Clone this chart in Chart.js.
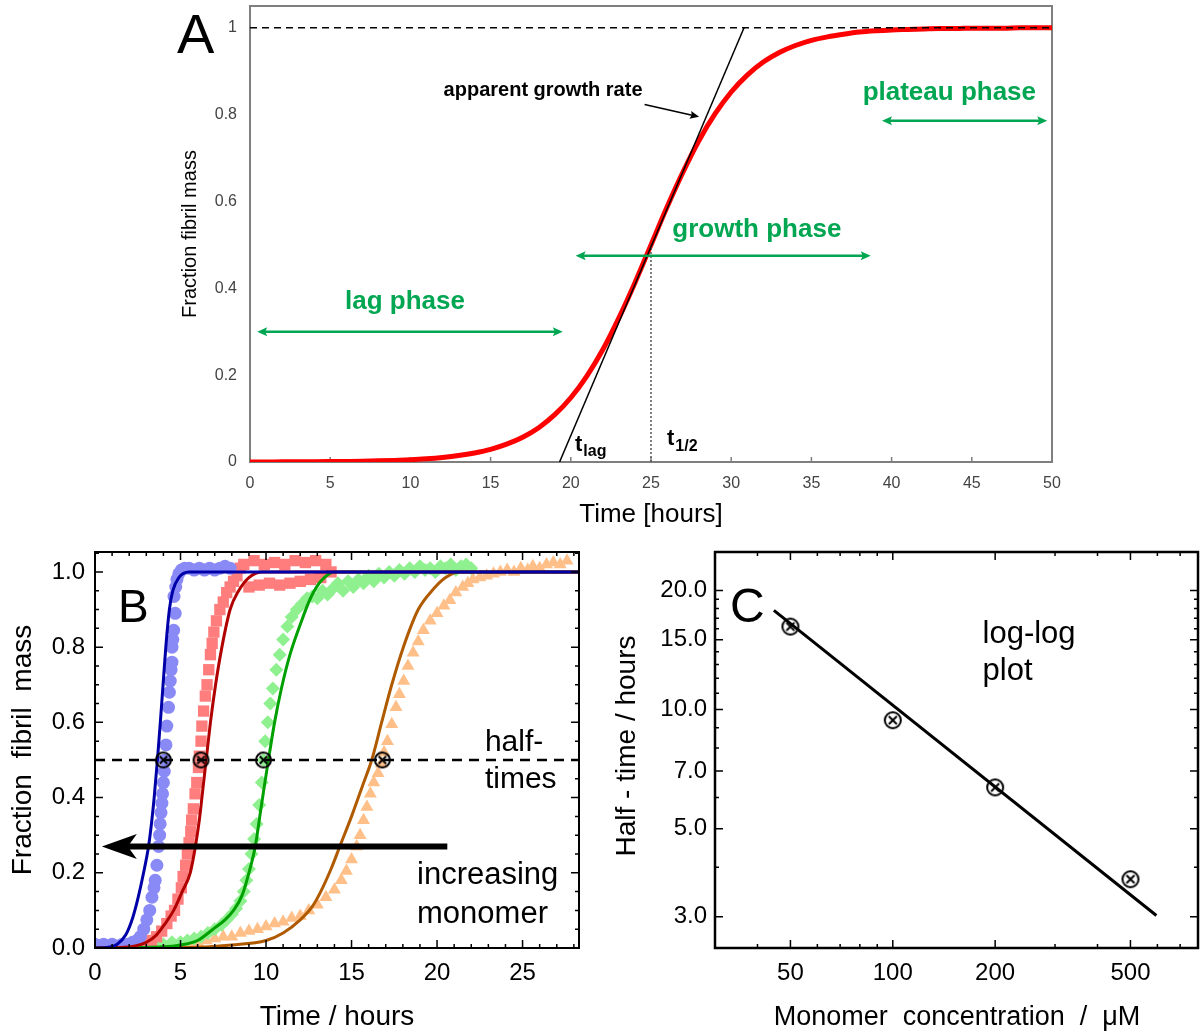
<!DOCTYPE html>
<html>
<head>
<meta charset="utf-8">
<title>Amyloid fibril growth kinetics</title>
<script src="https://cdn.jsdelivr.net/npm/chart.js@4.4.1/dist/chart.umd.min.js"></script>
<style>
  body { margin: 0; background: #fff; }
  #wrap { position: relative; width: 1204px; height: 1034px; overflow: hidden; }
  canvas { position: absolute; }
  #panelA { left: 0; top: 0; }
  #panelB { left: 0; top: 540px; }
  #panelC { left: 600px; top: 540px; }
</style>
</head>
<body>
<div id="wrap">
  <canvas id="panelA" width="1204" height="540"></canvas>
  <canvas id="panelB" width="600" height="494"></canvas>
  <canvas id="panelC" width="604" height="494"></canvas>
</div>
<script>
// ---------- panel A : idealised sigmoid ----------
const timeA = [0,1,2,3,4,5,6,7,8,9,10,11,12,13,14,15,16,17,18,19,20,21,22,23,24,25,
  26,27,28,29,30,31,32,33,34,35,36,37,38,39,40,41,42,43,44,45,46,47,48,49,50];
const fracA = [0,0.0002,0.0003,0.0005,0.0006,0.0009,0.0013,0.0018,0.0026,0.0037,0.0052,
  0.0074,0.0105,0.0148,0.0208,0.029,0.041,0.057,0.079,0.109,0.148,0.198,0.259,0.332,0.413,0.5,
  0.587,0.668,0.741,0.802,0.852,0.891,0.921,0.943,0.959,0.971,0.979,0.985,0.99,0.993,0.995,
  0.996,0.997,0.998,0.998,0.999,0.999,0.999,1,1,1];
const tangentT = [19.3, 30.8];
const tangentY = [0, 1];
const tHalfA = 25;
const plateauA = 1;
const xTicksA = [0,5,10,15,20,25,30,35,40,45,50];
const yTicksA = [0,0.2,0.4,0.6,0.8,1];

// ---------- panel B : measured curves and fits ----------
const blueT = [0,0.25,0.5,0.75,1.0,1.3,1.6,1.9,2.2,2.45,2.65,2.85,3.03,3.2,3.33,3.45,3.52,3.62,3.72,3.78,
  3.81,3.86,3.91,3.95,4.0,4.05,4.1,4.15,4.2,4.3,4.35,4.4,4.45,4.5,4.5,4.55,4.6,4.69,4.62,4.72,
  4.79,4.9,5.05,5.25,5.5,5.8,6.1,6.4,6.7,7.0,7.3,7.6,7.9];
const blueY = [0.01,0.005,0.01,0.005,0.01,0.005,0.01,0.01,0.015,0.02,0.03,0.05,0.075,0.1,0.135,0.16,0.18,0.22,0.27,0.3,
  0.33,0.36,0.385,0.41,0.44,0.47,0.5,0.54,0.59,0.64,0.68,0.71,0.74,0.76,0.8,0.82,0.845,0.89,0.935,0.96,
  0.98,0.995,1.005,1.01,1.01,1.005,1.01,1.005,1.01,1.005,1.01,1.015,1.01];

const redT = [0.2,0.6,1.0,1.4,1.8,2.2,2.6,3.0,3.3,3.6,3.9,4.2,4.45,4.65,4.85,5.05,5.15,5.3,5.4,5.5,
  5.6,5.65,5.75,5.85,5.95,6.05,6.1,6.2,6.25,6.35,6.45,6.55,6.65,6.75,6.85,6.95,7.1,7.3,7.5,7.7,
  7.9,8.1,8.3,8.5,8.7,9.0,9.3,9.6,9.9,10.2,10.5,10.8,11.1,11.4,11.7,12.0,12.3,12.6,12.9,13.2,13.5,13.8];
const redY = [0.005,0.005,0,0.005,0.005,0.01,0.01,0.015,0.02,0.03,0.045,0.065,0.085,0.1,0.13,0.16,0.19,0.22,0.25,0.28,
  0.31,0.34,0.37,0.41,0.44,0.48,0.51,0.55,0.59,0.63,0.67,0.7,0.74,0.78,0.81,0.84,0.87,0.9,0.92,0.945,
  0.96,0.975,0.99,1.01,1.02,0.96,1.03,0.965,1.02,0.97,1.025,0.965,1.02,0.97,1.03,0.975,1.025,0.98,1.03,0.985,1.02,1.0];

const greenT = [1.0,1.5,2.0,2.5,3.0,3.5,4.0,4.5,5.0,5.4,5.8,6.2,6.6,7.0,7.4,7.7,8.0,8.25,8.5,8.7,
  8.85,9.0,9.15,9.3,9.45,9.6,9.75,9.85,9.95,10.1,10.25,10.4,10.6,10.8,11.0,11.25,11.5,11.8,12.1,12.4,
  12.7,13.0,13.3,13.6,13.9,14.2,14.5,14.8,15.1,15.4,15.7,16.0,16.3,16.6,16.9,17.2,17.5,17.8,18.1,18.4,
  18.7,19.0,19.3,19.6,19.9,20.2,20.5,20.8,21.1,21.4,21.7,22.0];
const greenY = [0.005,0.005,0.005,0.005,0.01,0.01,0.01,0.015,0.015,0.02,0.025,0.03,0.04,0.05,0.062,0.075,0.09,0.105,0.125,0.15,
  0.18,0.21,0.25,0.29,0.33,0.38,0.44,0.5,0.55,0.6,0.65,0.69,0.74,0.78,0.82,0.855,0.88,0.9,0.915,0.93,
  0.935,0.93,0.95,0.94,0.955,0.97,0.95,0.975,0.96,0.98,0.97,0.99,0.975,0.995,0.985,1.0,0.99,1.005,0.995,1.01,
  1.0,1.015,1.005,1.01,1.0,1.015,1.01,1.02,1.005,1.015,1.02,1.01];

const orangeT = [0.3,1,2,3,4,5,5.5,6,6.5,7,7.5,8,8.5,9,9.5,10,10.5,11,11.5,12,
  12.5,13,13.5,14,14.4,14.7,15,15.3,15.5,15.7,15.9,16.1,16.3,16.55,16.75,16.9,17.1,17.35,17.6,17.8,
  18.05,18.3,18.6,18.9,19.2,19.6,20,20.4,20.75,21.1,21.5,21.8,22.1,22.5,22.9,23.3,23.7,24.1,24.5,24.9,
  25.3,25.6,26,26.4,26.8,27.2,27.6];
const orangeY = [0,0,0,0.005,0.005,0.005,0.01,0.015,0.02,0.025,0.03,0.03,0.04,0.045,0.05,0.057,0.065,0.07,0.08,0.085,
  0.1,0.115,0.135,0.155,0.18,0.205,0.235,0.27,0.3,0.34,0.375,0.41,0.44,0.465,0.49,0.52,0.55,0.595,0.64,0.675,
  0.71,0.75,0.785,0.815,0.845,0.87,0.89,0.91,0.925,0.945,0.96,0.97,0.98,0.985,0.99,0.995,1,1.005,1,1.01,
  1.005,1.015,1.01,1.02,1.025,1.02,1.03];

const fitBlueT = [0,0.8,1.3,1.8,2.2,2.5,2.84,3.13,3.3,3.46,3.65,3.82,3.98,4.14,4.35,4.55,4.9,5.5,28.3];
const fitBlueY = [0,0.002,0.01,0.035,0.08,0.13,0.2,0.27,0.33,0.4,0.5,0.6,0.7,0.8,0.9,0.95,0.985,1,1];
const fitRedT = [0,2.0,3.0,3.6,4.1,4.6,5.1,5.57,5.87,6.1,6.3,6.5,6.75,7.05,7.42,7.9,8.4,9.0,9.8,28.3];
const fitRedY = [0,0.003,0.015,0.035,0.065,0.1,0.15,0.2,0.27,0.34,0.42,0.5,0.6,0.7,0.8,0.9,0.95,0.985,1,1];
const fitGreenT = [0,4,5,6,6.9,7.6,8.1,8.6,9.0,9.37,9.7,9.95,10.14,10.5,10.9,11.4,12.0,12.6,13.2,14.0,28.3];
const fitGreenY = [0,0.003,0.008,0.02,0.05,0.075,0.1,0.14,0.2,0.27,0.37,0.445,0.5,0.6,0.69,0.78,0.86,0.93,0.975,1,1];
const fitBrownT = [0,6,8,10,11,12,12.7,13.2,13.8,14.33,15.0,15.67,16.18,16.76,17.35,18.03,18.9,19.8,20.5,21.3,28.3];
const fitBrownY = [0,0.002,0.008,0.02,0.04,0.075,0.11,0.15,0.21,0.272,0.35,0.435,0.5,0.6,0.7,0.8,0.9,0.955,0.985,1,1];

const halfTimes = [4.0, 6.2, 9.85, 16.8];
const halfLevel = 0.5;
const xTicksB = [0,5,10,15,20,25];
const yTicksB = [0,0.2,0.4,0.6,0.8,1.0];

// ---------- panel C : log-log half-times ----------
const monomer = [50, 100, 200, 500];
const halfTime = [16.2, 9.4, 6.36, 3.73];
const fitConc = [44.7, 596];
const fitHalf = [17.8, 3.02];
const xTicksC = [50, 100, 200, 500];
const yTicksC = [3, 5, 7, 10, 15, 20];

const FONT = "'Liberation Sans', Arial, Helvetica, sans-serif";
Chart.defaults.font.family = FONT;
Chart.defaults.color = '#000';

function pts(xs, ys) { return xs.map((x, i) => ({ x: x, y: ys[i] })); }

// circle with a cross, used as point style
function otimes(r, lw) {
  const c = document.createElement('canvas');
  const s = Math.ceil(2 * r + lw + 2);
  c.width = c.height = s;
  const g = c.getContext('2d');
  g.strokeStyle = '#000';
  g.lineWidth = lw;
  g.beginPath(); g.arc(s / 2, s / 2, r, 0, Math.PI * 2); g.stroke();
  const d = r * 0.5;
  g.beginPath();
  g.moveTo(s / 2 - d, s / 2 - d); g.lineTo(s / 2 + d, s / 2 + d);
  g.moveTo(s / 2 + d, s / 2 - d); g.lineTo(s / 2 - d, s / 2 + d);
  g.stroke();
  return c;
}

function frame(chart, f) {
  const ctx = chart.ctx, a = chart.chartArea, xs = chart.scales.x, ys = chart.scales.y;
  ctx.save();
  ctx.strokeStyle = f.color;
  ctx.lineWidth = f.tickWidth;
  ctx.beginPath();
  const xt = (vals, len) => vals.forEach(v => {
    const p = xs.getPixelForValue(v);
    ctx.moveTo(p, a.bottom); ctx.lineTo(p, a.bottom - len);
    if (f.mirror) { ctx.moveTo(p, a.top); ctx.lineTo(p, a.top + len); }
  });
  const yt = (vals, len) => vals.forEach(v => {
    const p = ys.getPixelForValue(v);
    ctx.moveTo(a.left, p); ctx.lineTo(a.left + len, p);
    if (f.mirror) { ctx.moveTo(a.right, p); ctx.lineTo(a.right - len, p); }
  });
  xt(f.xMajor || [], f.major); xt(f.xMinor || [], f.minor);
  yt(f.yMajor || [], f.major); yt(f.yMinor || [], f.minor);
  ctx.stroke();
  ctx.lineWidth = f.boxWidth;
  ctx.strokeRect(a.left, a.top, a.right - a.left, a.bottom - a.top);
  ctx.restore();
}

function head(ctx, x, y, ang, len, half, notch) {
  ctx.save();
  ctx.translate(x, y); ctx.rotate(ang);
  ctx.beginPath();
  ctx.moveTo(0, 0); ctx.lineTo(-len, -half); ctx.lineTo(-len + notch, 0); ctx.lineTo(-len, half);
  ctx.closePath(); ctx.fill();
  ctx.restore();
}

function text(ctx, s, x, y, font, align, color) {
  ctx.save();
  ctx.font = font; ctx.textAlign = align || 'left'; ctx.textBaseline = 'alphabetic';
  ctx.fillStyle = color || '#000';
  ctx.fillText(s, x, y);
  ctx.restore();
}

function vtext(ctx, s, x, y, font) {
  ctx.save();
  ctx.translate(x, y); ctx.rotate(-Math.PI / 2);
  ctx.font = font; ctx.textAlign = 'center'; ctx.textBaseline = 'middle'; ctx.fillStyle = '#000';
  ctx.fillText(s, 0, 0);
  ctx.restore();
}

function tickSet(vals) { return s => { s.ticks = vals.map(v => ({ value: v })); }; }

// fixed axis sizes, no label overhang padding, so the plot box lands where the figure has it
function fixX(h) { return s => { s.height = h; s.paddingLeft = 0; s.paddingRight = 0; s.paddingTop = 0; s.paddingBottom = 0; }; }
function fixY(w) { return s => { s.width = w; s.paddingLeft = 0; s.paddingRight = 0; s.paddingTop = 0; s.paddingBottom = 0; }; }

function axis(opts) {
  return Object.assign({
    grid: { display: false, drawTicks: false },
    border: { display: false }
  }, opts);
}

const base = {
  responsive: false,
  animation: false,
  events: [],
  plugins: { legend: { display: false }, tooltip: { enabled: false } }
};

// ---------------- panel A ----------------
const phaseMarks = [
  { label: 'lag phase', from: 0.45, to: 19.5, level: 0.30, tx: 9.66, ty: 0.352 },
  { label: 'growth phase', from: 20.3, to: 38.7, level: 0.475, tx: 31.6, ty: 0.518 },
  { label: 'plateau phase', from: 39.4, to: 49.7, level: 0.786, tx: 43.6, ty: 0.834 }
];
const GREEN = '#00a651';

const decorA = {
  id: 'decorA',
  beforeDatasetsDraw(chart) {
    frame(chart, { color: '#7f7f7f', tickWidth: 1.5, boxWidth: 2, major: 5, minor: 0, xMajor: xTicksA, mirror: false });
  },
  afterDatasetsDraw(chart) {
    const ctx = chart.ctx, x = chart.scales.x, y = chart.scales.y;
    // phase arrows and their labels
    phaseMarks.forEach(m => {
      const x1 = x.getPixelForValue(m.from), x2 = x.getPixelForValue(m.to), py = y.getPixelForValue(m.level);
      ctx.save();
      ctx.strokeStyle = GREEN; ctx.fillStyle = GREEN; ctx.lineWidth = 2.5;
      ctx.beginPath(); ctx.moveTo(x1 + 6, py); ctx.lineTo(x2 - 6, py); ctx.stroke();
      head(ctx, x1, py, Math.PI, 10, 4.5, 2);
      head(ctx, x2, py, 0, 10, 4.5, 2);
      ctx.restore();
      text(ctx, m.label, x.getPixelForValue(m.tx), y.getPixelForValue(m.ty), 'bold 26px ' + FONT, 'center', GREEN);
    });
    // apparent growth rate pointer
    text(ctx, 'apparent growth rate', x.getPixelForValue(18.27), y.getPixelForValue(0.842), 'bold 20px ' + FONT, 'center');
    const ax1 = x.getPixelForValue(24.6), ay1 = y.getPixelForValue(0.823);
    const ax2 = x.getPixelForValue(28.0), ay2 = y.getPixelForValue(0.795);
    const ang = Math.atan2(ay2 - ay1, ax2 - ax1);
    ctx.save();
    ctx.strokeStyle = '#000'; ctx.fillStyle = '#000'; ctx.lineWidth = 1.6;
    ctx.beginPath(); ctx.moveTo(ax1, ay1); ctx.lineTo(ax2 - 6 * Math.cos(ang), ay2 - 6 * Math.sin(ang)); ctx.stroke();
    head(ctx, ax2, ay2, ang, 9, 4, 1.5);
    ctx.restore();
    // t_lag and t_1/2
    const sub = (main, s, tx, ty, drop) => {
      const px = x.getPixelForValue(tx), py = y.getPixelForValue(ty);
      ctx.save();
      ctx.fillStyle = '#000'; ctx.textBaseline = 'alphabetic';
      ctx.font = 'bold 22px ' + FONT; ctx.fillText(main, px, py);
      const w = ctx.measureText(main).width;
      ctx.font = 'bold 16px ' + FONT; ctx.fillText(s, px + w + 1, py + drop);
      ctx.restore();
    };
    sub('t', 'lag', 20.26, 0.025, 5);
    sub('t', '1/2', 26.0, 0.039, 6);
    // panel letter and axis titles
    text(ctx, 'A', 177, 53, '56px ' + FONT, 'left');
    vtext(ctx, 'Fraction fibril mass', 190, 234, '20px ' + FONT);
    text(ctx, 'Time [hours]', 651, 522, '26px ' + FONT, 'center');
  }
};

new Chart(document.getElementById('panelA'), {
  type: 'scatter',
  data: {
    datasets: [
      { data: pts([xTicksA[0], xTicksA[xTicksA.length - 1]], [plateauA, plateauA]), showLine: true,
        borderColor: '#000', borderWidth: 1.5, borderDash: [7, 5], pointRadius: 0, order: 0 },
      { data: pts(tangentT, tangentY), showLine: true, borderColor: '#000', borderWidth: 1.5, pointRadius: 0, order: 1 },
      { data: pts([tHalfA, tHalfA], [0, 0.5]), showLine: true, borderColor: '#555', borderWidth: 1.5,
        borderDash: [2, 2], pointRadius: 0, order: 1 },
      { data: pts(timeA, fracA), showLine: true, borderColor: '#ff0000', borderWidth: 5, pointRadius: 0,
        cubicInterpolationMode: 'monotone', order: 2 }
    ]
  },
  options: Object.assign({}, base, {
    layout: { autoPadding: false, padding: { top: 6, right: 152, left: 0, bottom: 0 } },
    scales: {
      x: axis({ type: 'linear', min: 0, max: 50, afterFit: fixX(78), afterBuildTicks: tickSet(xTicksA),
        ticks: { padding: 12, color: '#444', font: { size: 16 }, maxRotation: 0, autoSkip: false, callback: v => String(v) } }),
      y: axis({ type: 'linear', min: 0, max: 1.05, afterFit: fixY(250), afterBuildTicks: tickSet(yTicksA),
        ticks: { padding: 13, color: '#444', font: { size: 16 }, autoSkip: false, callback: v => String(v) } })
    }
  }),
  plugins: [decorA]
});

// ---------------- panel B ----------------
const minorB = { x: [], y: [] };
for (let i = 0; i <= 28; i++) minorB.x.push(i);
for (let i = 0; i <= 21; i++) minorB.y.push(i * 0.05);

const decorB = {
  id: 'decorB',
  afterDatasetsDraw(chart) {
    const ctx = chart.ctx, x = chart.scales.x, y = chart.scales.y;
    frame(chart, { color: '#000', tickWidth: 1.5, boxWidth: 2, major: 8, minor: 4,
      xMajor: xTicksB, xMinor: minorB.x, yMajor: yTicksB, yMinor: minorB.y, mirror: true });
    // increasing monomer arrow
    const x1 = x.getPixelForValue(20.6), x2 = x.getPixelForValue(0.4), py = y.getPixelForValue(0.27);
    ctx.save();
    ctx.strokeStyle = '#000'; ctx.fillStyle = '#000'; ctx.lineWidth = 6;
    ctx.beginPath(); ctx.moveTo(x1, py); ctx.lineTo(x2 + 25, py); ctx.stroke();
    head(ctx, x2, py, Math.PI, 35, 12.5, 9);
    ctx.restore();
    const f = '30px ' + FONT;
    text(ctx, 'half-', x.getPixelForValue(22.8), y.getPixelForValue(0.525), f);
    text(ctx, 'times', x.getPixelForValue(22.8), y.getPixelForValue(0.425), f);
    text(ctx, 'increasing', x.getPixelForValue(18.83), y.getPixelForValue(0.171), '31px ' + FONT);
    text(ctx, 'monomer', x.getPixelForValue(18.83), y.getPixelForValue(0.067), '31px ' + FONT);
    text(ctx, 'B', 118, 82, '46px ' + FONT, 'left');
    vtext(ctx, 'Fraction  fibril  mass', 23, 210, '28px ' + FONT);
    text(ctx, 'Time / hours', 337, 485, '28px ' + FONT, 'center');
  }
};

const lineB = (xs, ys, col, ord) => ({ data: pts(xs, ys), showLine: true, borderColor: col, borderWidth: 3,
  pointRadius: 0, cubicInterpolationMode: 'monotone', order: ord });
const dotsB = (xs, ys, col, style, r, ord) => ({ data: pts(xs, ys), showLine: false, pointStyle: style,
  pointRadius: r, pointBackgroundColor: col, pointBorderColor: col, pointBorderWidth: 0, order: ord });

new Chart(document.getElementById('panelB'), {
  type: 'scatter',
  data: {
    datasets: [
      { data: halfTimes.map(t => ({ x: t, y: halfLevel })), showLine: false, pointStyle: otimes(7.5, 2),
        pointRadius: 9, order: -2 },
      { data: pts([0, 28.3], [halfLevel, halfLevel]), showLine: true, borderColor: '#000', borderWidth: 2.5,
        borderDash: [10, 7], pointRadius: 0, order: -1 },
      lineB(fitBlueT, fitBlueY, '#0000a8', 1),
      lineB(fitRedT, fitRedY, '#b00000', 1),
      lineB(fitGreenT, fitGreenY, '#00a000', 1),
      lineB(fitBrownT, fitBrownY, '#b05a00', 1),
      dotsB(blueT, blueY, '#8a8af6', 'circle', 6.5, 5),
      dotsB(redT, redY, '#ff7d7d', 'rect', 8, 6),
      dotsB(greenT, greenY, '#8ff08f', 'rectRot', 7, 7),
      dotsB(orangeT, orangeY, '#ffbf88', 'triangle', 7.5, 8)
    ]
  },
  options: Object.assign({}, base, {
    layout: { autoPadding: false, padding: { top: 12, right: 21, left: 0, bottom: 0 } },
    scales: {
      x: axis({ type: 'linear', min: 0, max: 28.3, afterFit: fixX(86), afterBuildTicks: tickSet(xTicksB),
        ticks: { padding: 11, font: { size: 24 }, maxRotation: 0, autoSkip: false, callback: v => String(v) } }),
      y: axis({ type: 'linear', min: 0, max: 1.053, afterFit: fixY(95), afterBuildTicks: tickSet(yTicksB),
        ticks: { padding: 10, font: { size: 24 }, autoSkip: false, callback: v => v.toFixed(1) } })
    }
  }),
  plugins: [decorB]
});

// ---------------- panel C ----------------
const decorC = {
  id: 'decorC',
  afterDatasetsDraw(chart) {
    const ctx = chart.ctx, x = chart.scales.x, y = chart.scales.y;
    frame(chart, { color: '#000', tickWidth: 1.5, boxWidth: 2.5, major: 8, minor: 4,
      xMajor: xTicksC, xMinor: [30, 40, 60, 70, 80, 90, 300, 400, 600, 700],
      yMajor: yTicksC, yMinor: [4, 6, 8, 9, 11, 12, 13, 14, 16, 17, 18, 19], mirror: true });
    const f = '31px ' + FONT;
    text(ctx, 'log-log', x.getPixelForValue(183.6), y.getPixelForValue(14.7), f);
    text(ctx, 'plot', x.getPixelForValue(183.6), y.getPixelForValue(11.86), f);
    text(ctx, 'C', 130, 82, '48px ' + FONT, 'left');
    vtext(ctx, 'Half - time / hours', 27, 206, '28px ' + FONT);
    text(ctx, 'Monomer  concentration  /  \u03bcM', 357, 485, '27px ' + FONT, 'center');
  }
};

new Chart(document.getElementById('panelC'), {
  type: 'scatter',
  data: {
    datasets: [
      { data: pts(monomer, halfTime), showLine: false, pointStyle: otimes(8, 2), pointRadius: 9, order: 0 },
      { data: pts(fitConc, fitHalf), showLine: true, borderColor: '#000', borderWidth: 3, pointRadius: 0, order: 1 }
    ]
  },
  options: Object.assign({}, base, {
    layout: { autoPadding: false, padding: { top: 12, right: 6, left: 0, bottom: 0 } },
    scales: {
      x: axis({ type: 'logarithmic', min: 30, max: 790, afterFit: fixX(86), afterBuildTicks: tickSet(xTicksC),
        ticks: { padding: 11, font: { size: 24 }, maxRotation: 0, autoSkip: false, callback: v => String(v) } }),
      y: axis({ type: 'logarithmic', min: 2.5, max: 25, afterFit: fixY(115), afterBuildTicks: tickSet(yTicksC),
        ticks: { padding: 8, font: { size: 24 }, autoSkip: false, callback: v => v.toFixed(1) } })
    }
  }),
  plugins: [decorC]
});
</script>
</body>
</html>
